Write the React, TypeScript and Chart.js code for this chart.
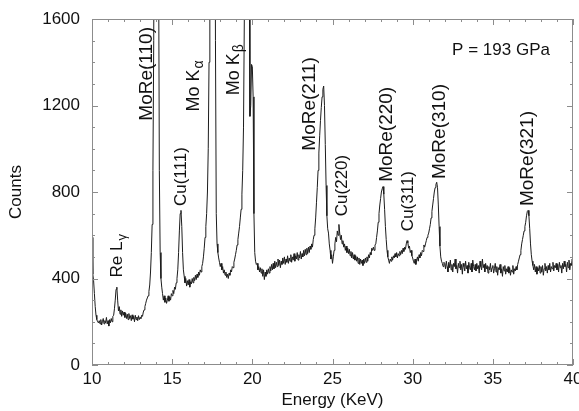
import React, { useEffect, useRef } from "react";
import { Chart, registerables } from "chart.js";

Chart.register(...registerables);

// Energy grid of the spectrum (KeV)
const E_START = 10;
const E_STEP = 0.05;

// Counts, 20 samples per KeV
const counts10to15 = [
  590, 420, 390, 330, 270, 230, 210, 200, 195, 205, 190, 210, 185, 200, 215, 190, 205, 195, 220, 190,
  205, 180, 210, 195, 215, 200, 225, 230, 260, 300, 350, 360, 300, 250, 270, 235, 255, 225, 250, 230,
  245, 220, 240, 215, 235, 210, 238, 215, 228, 205, 232, 212, 225, 200, 230, 210, 222, 205, 228, 210,
  220, 215, 230, 225, 245, 255, 270, 285, 300, 310, 320, 340, 370, 430, 520, 650, 900, 1500, 3000, 3000,
  3000, 3000, 3000, 2000, 900, 520, 400, 360, 330, 300, 320, 290, 310, 285, 300, 320, 295, 315, 300, 330,
];
const counts15to20 = [
  320, 345, 330, 360, 350, 380, 400, 440, 520, 620, 700, 715, 640, 520, 440, 410, 380, 400, 365, 390,
  370, 395, 360, 385, 375, 400, 380, 405, 390, 415, 395, 420, 405, 430, 415, 440, 430, 455, 470, 500,
  540, 590, 640, 700, 800, 1000, 1400, 3000, 3000, 3000, 3000, 3000, 3000, 3000, 1500, 700, 560, 520, 495, 475,
  455, 470, 440, 455, 425, 440, 415, 430, 405, 420, 400, 425, 415, 440, 430, 455, 450, 475, 490, 510,
  530, 555, 580, 610, 640, 680, 720, 790, 900, 1100, 1600, 3000, 3000, 3000, 3000, 3000, 2000, 1150, 1200, 1390,
];
const counts20to25 = [
  1380, 1240, 700, 520, 480, 465, 470, 440, 455, 430, 450, 425, 445, 410, 440, 395, 430, 410, 440, 420,
  445, 425, 455, 435, 465, 440, 470, 445, 480, 450, 475, 455, 490, 460, 485, 450, 480, 465, 495, 470,
  500, 465, 490, 475, 505, 470, 495, 480, 510, 475, 500, 485, 515, 480, 505, 490, 520, 485, 510, 495,
  525, 490, 515, 500, 530, 505, 535, 510, 540, 515, 545, 520, 550, 535, 560, 545, 580, 600, 630, 680,
  750, 820, 900, 980, 1060, 1130, 1190, 1240, 1275, 1290, 1200, 1020, 830, 690, 630, 610, 560, 530, 490, 510,
];
const counts25to30 = [
  470, 500, 530, 560, 590, 570, 620, 600, 650, 610, 580, 600, 560, 575, 545, 560, 530, 550, 520, 540,
  515, 535, 505, 525, 495, 520, 490, 510, 485, 505, 480, 500, 470, 495, 465, 490, 470, 485, 460, 490,
  470, 495, 475, 500, 480, 510, 495, 520, 510, 540, 530, 545, 530, 555, 560, 590, 620, 660, 700, 740,
  770, 800, 815, 825, 790, 720, 640, 580, 530, 500, 485, 470, 490, 480, 500, 485, 505, 495, 515, 500,
  520, 495, 515, 505, 525, 510, 530, 515, 540, 525, 545, 535, 560, 575, 565, 540, 550, 520, 530, 505,
];
const counts30to35 = [
  495, 480, 470, 490, 465, 485, 500, 480, 510, 495, 520, 505, 530, 525, 555, 545, 560, 575, 590, 600,
  610, 630, 650, 680, 710, 740, 770, 800, 820, 835, 845, 820, 740, 640, 550, 500, 480, 470, 455, 475,
  470, 445, 480, 455, 430, 475, 450, 485, 440, 465, 430, 470, 455, 490, 445, 460, 425, 470, 450, 480,
  440, 465, 420, 470, 455, 435, 480, 445, 460, 425, 475, 450, 440, 470, 430, 485, 455, 440, 465, 435,
  470, 445, 460, 425, 480, 455, 440, 490, 450, 465, 430, 470, 445, 460, 425, 455, 440, 470, 430, 450,
];
const counts35to40 = [
  460, 425, 445, 470, 430, 455, 415, 450, 440, 465, 425, 445, 410, 455, 435, 460, 420, 445, 430, 455,
  425, 450, 415, 440, 430, 460, 420, 445, 435, 455, 440, 465, 480, 495, 510, 530, 560, 580, 600, 620,
  640, 660, 690, 710, 715, 690, 630, 560, 510, 480, 460, 440, 465, 430, 455, 420, 450, 435, 460, 425,
  455, 430, 460, 415, 445, 470, 435, 455, 425, 460, 440, 470, 430, 455, 445, 475, 435, 460, 450, 470,
  440, 465, 430, 475, 450, 460, 425, 470, 445, 480, 455, 465, 430, 475, 450, 485, 440, 470, 460, 490,
  470,
];

// Axis ranges / ticks
const X_MIN = 10;
const X_MAX = 40;
const X_STEP = 5;
const Y_MIN = 0;
const Y_MAX = 1600;
const Y_STEP = 400;

// Peak annotations (text, subscript, energy of label centre, count at label bottom)
const peakTexts = ["Re L", "MoRe(110)", "Cu(111)", "Mo K", "Mo K", "MoRe(211)", "Cu(220)", "MoRe(220)", "Cu(311)", "MoRe(310)", "MoRe(321)"];
const peakSubs = ["γ", "", "", "α", "β", "", "", "", "", "", ""];
const peakEnergies = [11.59, 13.43, 15.55, 16.36, 18.86, 23.6, 25.6, 28.4, 29.71, 31.71, 37.2];
const peakCounts = [405, 1130, 735, 1172, 1247, 991, 688, 847, 619, 860, 735];
// label font sizes (style)
const peakFontSizes = [17, 19, 17, 18, 18, 19, 17, 19, 17, 19, 19];

const pressureText = "P = 193 GPa";
const pressureEnergy = 32.46;
const pressureCount = 1456;

const FONT = "'Liberation Sans', Arial, Helvetica, sans-serif";

export default function App() {
  const canvasRef = useRef<HTMLCanvasElement | null>(null);

  useEffect(() => {
    const canvas = canvasRef.current;
    if (!canvas) return;
    const allCounts = [
      ...counts10to15,
      ...counts15to20,
      ...counts20to25,
      ...counts25to30,
      ...counts30to35,
      ...counts35to40,
    ];
    const points = allCounts.map((c, i) => ({ x: +(E_START + i * E_STEP).toFixed(2), y: c }));

    const decor = {
      id: "decor",
      afterDraw(chart: any) {
        const { ctx, chartArea: a, scales } = chart;
        const xs = scales.x;
        const ys = scales.y;
        ctx.save();
        ctx.strokeStyle = "#8c8c8c";
        ctx.lineWidth = 1;
        ctx.strokeRect(Math.round(a.left) + 0.5, Math.round(a.top) + 0.5, Math.round(a.right - a.left) - 1, Math.round(a.bottom - a.top) - 1);
        ctx.beginPath();
        for (let v = Y_MIN; v <= Y_MAX; v += 100) {
          const y = Math.round(ys.getPixelForValue(v)) + 0.5;
          const len = v % Y_STEP === 0 ? 6 : 3;
          ctx.moveTo(a.left, y);
          ctx.lineTo(a.left + len, y);
          ctx.moveTo(a.right, y);
          ctx.lineTo(a.right - len, y);
        }
        for (let v = X_MIN; v <= X_MAX; v += 1) {
          const x = Math.round(xs.getPixelForValue(v)) + 0.5;
          const len = v % X_STEP === 0 ? 6 : 3;
          ctx.moveTo(x, a.bottom);
          ctx.lineTo(x, a.bottom - len);
          ctx.moveTo(x, a.top);
          ctx.lineTo(x, a.top + len);
        }
        ctx.stroke();

        ctx.fillStyle = "#111";
        for (let i = 0; i < peakTexts.length; i++) {
          const x = xs.getPixelForValue(peakEnergies[i]);
          const y = ys.getPixelForValue(peakCounts[i]);
          const fs = peakFontSizes[i];
          ctx.save();
          ctx.translate(x, y);
          ctx.rotate(-Math.PI / 2);
          ctx.font = `${fs}px ${FONT}`;
          ctx.textAlign = "left";
          ctx.textBaseline = "middle";
          ctx.fillText(peakTexts[i], 0, 0);
          if (peakSubs[i]) {
            const w = ctx.measureText(peakTexts[i]).width;
            ctx.font = `${fs - 4}px ${FONT}`;
            ctx.fillText(peakSubs[i], w + 1, 5);
          }
          ctx.restore();
        }
        ctx.font = `17px ${FONT}`;
        ctx.textAlign = "left";
        ctx.textBaseline = "middle";
        ctx.fillText(pressureText, xs.getPixelForValue(pressureEnergy), ys.getPixelForValue(pressureCount));
        ctx.restore();
      },
    };

    const chart = new Chart(canvas, {
      type: "line",
      data: {
        datasets: [
          {
            data: points,
            borderColor: "#1c1c1c",
            borderWidth: 1,
            pointRadius: 0,
            tension: 0,
            fill: false,
          },
        ],
      },
      options: {
        animation: false,
        responsive: false,
        layout: { padding: { top: 19, right: 6, left: 0, bottom: 0 } },
        plugins: { legend: { display: false }, tooltip: { enabled: false } },
        scales: {
          x: {
            type: "linear",
            min: X_MIN,
            max: X_MAX,
            ticks: { stepSize: X_STEP, color: "#111", font: { size: 17, family: FONT }, padding: 4, maxRotation: 0, autoSkip: false, callback: (v: any) => String(v) },
            grid: { display: false, drawTicks: false },
            border: { display: false },
            title: { display: true, text: "Energy (KeV)", color: "#111", font: { size: 17, family: FONT }, padding: { top: 0, bottom: 0 } },
            afterFit: (s: any) => {
              s.height = 46;
              s.paddingLeft = 0;
              s.paddingRight = 0;
            },
          },
          y: {
            type: "linear",
            min: Y_MIN,
            max: Y_MAX,
            ticks: { stepSize: Y_STEP, color: "#111", font: { size: 17, family: FONT }, padding: 12, callback: (v: any) => String(v) },
            grid: { display: false, drawTicks: false },
            border: { display: false },
            title: { display: true, text: "Counts", color: "#111", font: { size: 17, family: FONT }, padding: { top: 6, bottom: 0 } },
            afterFit: (s: any) => {
              s.width = 92;
              s.paddingTop = 0;
              s.paddingBottom = 0;
            },
          },
        },
      },
      plugins: [decor],
    });
    return () => chart.destroy();
  }, []);

  return (
    <div style={{ position: "absolute", left: 0, top: 0, width: 579, height: 411, background: "#fff" }}>
      <canvas ref={canvasRef} width={579} height={411} style={{ display: "block" }} />
    </div>
  );
}
